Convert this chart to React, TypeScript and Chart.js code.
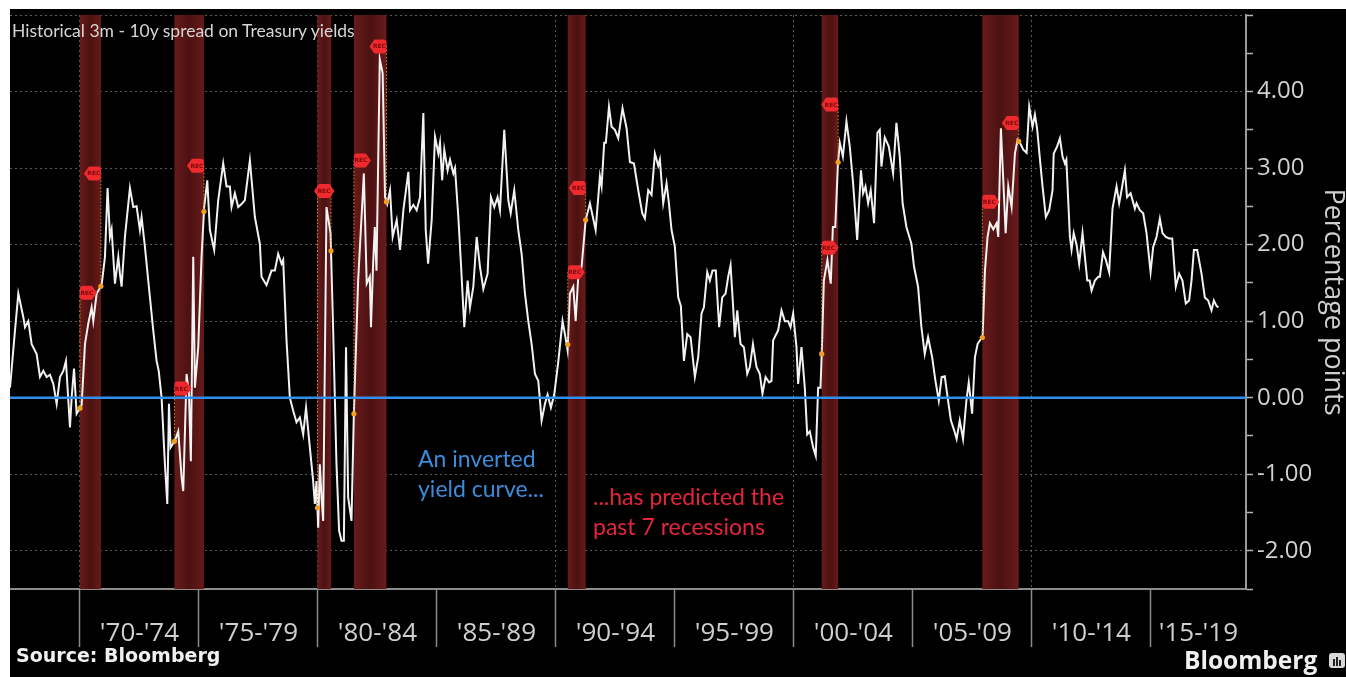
import React, { useEffect, useRef } from 'react';
import { Chart, registerables } from 'chart.js';

Chart.register(...registerables);

// ---- Data ----
const dates: number[] = [
  1967.06, 1967.27, 1967.41, 1967.62, 1967.69, 1967.83, 1967.97, 1968.18, 1968.32, 1968.46,
  1968.60, 1968.74, 1968.88, 1969.02, 1969.16, 1969.30, 1969.41, 1969.58, 1969.65, 1969.75,
  1969.86, 1970.07, 1970.21, 1970.35, 1970.49, 1970.56, 1970.70, 1970.91, 1971.05, 1971.16,
  1971.26, 1971.33, 1971.47, 1971.61, 1971.68, 1971.75, 1971.89, 1972.10, 1972.24, 1972.38,
  1972.52, 1972.59, 1972.73, 1972.87, 1973.08, 1973.22, 1973.31, 1973.43, 1973.57, 1973.67,
  1973.74, 1973.81, 1973.99, 1974.13, 1974.27, 1974.34, 1974.48, 1974.58, 1974.66, 1974.76,
  1974.83, 1974.97, 1975.11, 1975.22, 1975.35, 1975.46, 1975.64, 1975.81, 1976.02, 1976.16,
  1976.30, 1976.37, 1976.51, 1976.65, 1976.79, 1976.93, 1977.14, 1977.35, 1977.56, 1977.63,
  1977.84, 1978.05, 1978.19, 1978.33, 1978.47, 1978.54, 1978.68, 1978.82, 1978.96, 1979.10,
  1979.24, 1979.38, 1979.50, 1979.66, 1979.80, 1979.87, 1979.94, 1980.01, 1980.08, 1980.15,
  1980.22, 1980.36, 1980.53, 1980.64, 1980.78, 1980.89, 1980.99, 1981.09, 1981.18, 1981.27,
  1981.41, 1981.51, 1981.69, 1981.93, 1982.05, 1982.18, 1982.23, 1982.32, 1982.39, 1982.46,
  1982.60, 1982.72, 1982.82, 1982.91, 1983.03, 1983.14, 1983.31, 1983.45, 1983.59, 1983.80,
  1983.87, 1984.01, 1984.15, 1984.29, 1984.43, 1984.53, 1984.63, 1984.78, 1984.92, 1985.06,
  1985.13, 1985.22, 1985.31, 1985.45, 1985.55, 1985.69, 1985.76, 1985.90, 1986.01, 1986.15,
  1986.29, 1986.39, 1986.53, 1986.67, 1986.81, 1986.95, 1987.13, 1987.27, 1987.41, 1987.55,
  1987.65, 1987.83, 1988.00, 1988.10, 1988.25, 1988.42, 1988.56, 1988.70, 1988.84, 1988.98,
  1989.12, 1989.26, 1989.40, 1989.54, 1989.65, 1989.79, 1989.93, 1990.09, 1990.28, 1990.38,
  1990.49, 1990.59, 1990.73, 1990.83, 1990.94, 1991.08, 1991.25, 1991.43, 1991.67, 1991.85,
  1991.92, 1992.03, 1992.10, 1992.23, 1992.34, 1992.48, 1992.62, 1992.80, 1992.97, 1993.11,
  1993.28, 1993.46, 1993.63, 1993.74, 1993.88, 1994.02, 1994.16, 1994.30, 1994.37, 1994.51,
  1994.65, 1994.75, 1994.86, 1995.00, 1995.14, 1995.25, 1995.38, 1995.52, 1995.66, 1995.84,
  1995.98, 1996.12, 1996.22, 1996.36, 1996.47, 1996.58, 1996.72, 1996.86, 1996.99, 1997.13,
  1997.24, 1997.34, 1997.45, 1997.52, 1997.62, 1997.76, 1997.90, 1998.04, 1998.15, 1998.28,
  1998.43, 1998.57, 1998.68, 1998.81, 1998.96, 1999.06, 1999.13, 1999.34, 1999.48, 1999.62,
  1999.76, 1999.86, 1999.97, 2000.11, 2000.18, 2000.32, 2000.46, 2000.56, 2000.67, 2000.81,
  2000.92, 2001.02, 2001.12, 2001.18, 2001.26, 2001.41, 2001.55, 2001.64, 2001.74, 2001.85,
  2001.93, 2002.06, 2002.21, 2002.35, 2002.49, 2002.66, 2002.82, 2002.91, 2003.01, 2003.12,
  2003.23, 2003.37, 2003.51, 2003.61, 2003.68, 2003.82, 2003.99, 2004.17, 2004.31, 2004.45,
  2004.57, 2004.73, 2004.94, 2005.05, 2005.22, 2005.36, 2005.50, 2005.64, 2005.81, 2005.95,
  2006.09, 2006.21, 2006.34, 2006.48, 2006.60, 2006.74, 2006.84, 2006.97, 2007.11, 2007.25,
  2007.35, 2007.49, 2007.61, 2007.72, 2007.82, 2007.93, 2008.03, 2008.14, 2008.24, 2008.38,
  2008.52, 2008.59, 2008.70, 2008.80, 2008.90, 2009.01, 2009.15, 2009.29, 2009.40, 2009.50,
  2009.64, 2009.78, 2009.89, 2010.03, 2010.13, 2010.22, 2010.37, 2010.45, 2010.59, 2010.73,
  2010.87, 2010.92, 2011.06, 2011.18, 2011.29, 2011.39, 2011.45, 2011.60, 2011.67, 2011.76,
  2011.88, 2011.99, 2012.13, 2012.23, 2012.33, 2012.43, 2012.51, 2012.65, 2012.79, 2012.86,
  2012.99, 2013.11, 2013.25, 2013.39, 2013.56, 2013.67, 2013.77, 2013.91, 2014.00, 2014.15,
  2014.33, 2014.40, 2014.54, 2014.68, 2014.82, 2014.99, 2015.10, 2015.24, 2015.38, 2015.49,
  2015.63, 2015.77, 2015.90, 2016.05, 2016.19, 2016.33, 2016.47, 2016.61, 2016.71, 2016.81,
  2016.95, 2017.13, 2017.27, 2017.41, 2017.55, 2017.65, 2017.76, 2017.84,
];

const spread: number[] = [
  0.13, 0.88, 1.36, 1.05, 0.92, 1.00, 0.70, 0.57, 0.27, 0.35,
  0.27, 0.30, 0.18, -0.08, 0.27, 0.35, 0.48, -0.39, 0.00, 0.38,
  -0.21, -0.10, 0.70, 0.97, 1.18, 1.00, 1.36, 1.47, 1.84, 2.74,
  2.10, 2.20, 1.49, 1.84, 1.62, 1.45, 2.10, 2.74, 2.49, 2.50,
  2.19, 2.36, 1.97, 1.53, 0.88, 0.48, 0.35, 0.00, -0.87, -1.39,
  -0.08, -0.65, -0.56, -0.44, -1.04, -1.22, 0.31, 0.05, -0.83, 1.84,
  0.13, 0.66, 1.84, 2.49, 2.84, 2.19, 1.93, 2.58, 3.06, 2.76,
  2.76, 2.49, 2.67, 2.49, 2.53, 2.58, 3.10, 2.36, 2.01, 1.58,
  1.47, 1.66, 1.66, 1.88, 1.75, 1.80, 0.75, 0.00, -0.17, -0.32,
  -0.26, -0.48, -0.13, -0.65, -1.09, -1.39, -1.09, -1.70, -0.87, -1.30,
  -1.61, 2.49, 2.15, 0.88, -0.87, -1.74, -1.87, -1.87, 0.66, -1.30,
  -1.61, -0.21, 1.53, 2.93, 1.49, 1.58, 0.92, 1.75, 2.23, 1.66,
  4.42, 4.24, 2.62, 2.53, 2.71, 2.10, 2.32, 1.93, 2.45, 2.95,
  2.45, 2.52, 2.45, 2.62, 3.72, 2.19, 1.75, 2.32, 3.41, 3.19,
  3.33, 2.84, 3.24, 2.97, 3.11, 2.93, 3.00, 2.36, 1.75, 0.92,
  1.53, 1.18, 1.45, 2.10, 1.71, 1.42, 1.62, 2.62, 2.49, 2.62,
  2.45, 3.50, 2.58, 2.41, 2.71, 2.19, 1.88, 1.36, 1.00, 0.70,
  0.31, 0.22, -0.30, -0.08, 0.04, -0.13, 0.04, 0.44, 1.00, 0.83,
  0.62, 1.36, 1.45, 1.00, 1.58, 1.71, 2.32, 2.54, 2.19, 2.89,
  2.76, 3.33, 3.33, 3.80, 3.54, 3.50, 3.39, 3.78, 3.52, 3.08,
  3.06, 2.71, 2.41, 2.34, 2.71, 2.65, 3.19, 3.03, 3.11, 2.54,
  2.80, 2.54, 2.19, 1.97, 1.31, 1.20, 0.48, 0.83, 0.79, 0.27,
  0.53, 1.10, 1.18, 1.64, 1.53, 1.66, 1.66, 0.92, 1.31, 1.36,
  1.58, 1.73, 1.18, 0.79, 1.14, 0.70, 0.66, 0.31, 0.40, 0.70,
  0.40, 0.31, 0.05, 0.27, 0.20, 0.22, 0.75, 0.88, 1.14, 1.00,
  1.00, 0.92, 1.10, 0.66, 0.18, 0.66, 0.13, -0.48, -0.44, -0.65,
  -0.76, 0.13, 0.13, 0.66, 1.53, 1.80, 1.49, 2.23, 2.23, 3.04,
  3.33, 3.15, 3.61, 3.28, 2.80, 2.06, 2.97, 2.67, 2.76, 2.54,
  2.71, 2.28, 3.46, 3.50, 3.02, 3.40, 3.28, 2.93, 3.59, 3.15,
  2.54, 2.23, 2.01, 1.71, 1.45, 0.92, 0.57, 0.79, 0.53, 0.22,
  -0.04, 0.27, 0.28, -0.04, -0.30, -0.43, -0.54, -0.30, -0.54, -0.04,
  0.20, -0.21, 0.53, 0.70, 0.75, 0.79, 1.66, 2.10, 2.28, 2.20,
  2.28, 2.10, 3.52, 2.84, 2.15, 2.76, 2.49, 3.19, 3.37, 3.33,
  3.24, 3.20, 3.80, 3.54, 3.70, 3.52, 3.02, 2.76, 2.36, 2.45,
  2.71, 3.19, 3.28, 3.39, 3.15, 3.06, 3.11, 2.10, 1.93, 2.15,
  2.00, 1.75, 2.15, 1.84, 1.53, 1.53, 1.40, 1.53, 1.58, 1.58,
  1.90, 1.80, 1.64, 2.47, 2.76, 2.54, 2.71, 2.97, 2.62, 2.67,
  2.47, 2.54, 2.45, 2.41, 2.15, 1.64, 1.97, 2.10, 2.34, 2.15,
  2.10, 2.08, 2.08, 1.45, 1.62, 1.53, 1.23, 1.27, 1.53, 1.93,
  1.93, 1.62, 1.31, 1.27, 1.14, 1.27, 1.20, 1.18,
];

const recessionStart: number[] = [1970.0, 1973.97, 1979.98, 1981.51, 1990.5, 2001.17, 2007.92];
const recessionEnd: number[] = [1970.88, 1975.21, 1980.55, 1982.88, 1991.25, 2001.86, 2009.45];
const tagStartValues: number[] = [1.37, 0.12, 2.7, 3.1, 1.64, 1.96, 2.56];
const tagEndValues: number[] = [2.93, 3.03, 2.7, 4.59, 2.74, 3.83, 3.59];

const periodBoundaries: number[] = [1970, 1975, 1980, 1985, 1990, 1995, 2000, 2005, 2010, 2015];
const decadeLines: number[] = [1970, 1980, 1990, 2000, 2010];
const periodLabelCenters: number[] = [1972.5, 1977.5, 1982.5, 1987.5, 1992.5, 1997.5, 2002.5, 2007.5, 2012.5, 2017.0];
const periodLabels: string[] = ["'70-'74", "'75-'79", "'80-'84", "'85-'89", "'90-'94", "'95-'99", "'00-'04", "'05-'09", "'10-'14", "'15-'19"];

const yTickValues: number[] = [-2.5, -2, -1.5, -1, -0.5, 0, 0.5, 1, 1.5, 2, 2.5, 3, 3.5, 4, 4.5, 5];
const yLabelledValues: number[] = [-2, -1, 0, 1, 2, 3, 4];
const zeroLineValues: number[] = [0, 0];

const X_MIN = 1967.06;
const X_MAX = 2019.0;
const Y_MIN = -2.5;
const Y_MAX = 5;

const near = (a: number, b: number) => Math.abs(a - b) < 1e-6;

function valueAt(t: number): number {
  if (t <= dates[0]) return spread[0];
  for (let i = 1; i < dates.length; i++) {
    if (t <= dates[i]) {
      const f = (t - dates[i - 1]) / (dates[i] - dates[i - 1]);
      return spread[i - 1] + f * (spread[i] - spread[i - 1]);
    }
  }
  return spread[spread.length - 1];
}

const xTickValues: number[] = [...periodBoundaries, ...periodLabelCenters].sort((a, b) => a - b);

function drawTag(ctx: CanvasRenderingContext2D, ax: number, cy: number, dir: number) {
  const w = 17, h = 14, tip = 5, r = 3;
  const top = cy - h / 2, bot = cy + h / 2;
  ctx.beginPath();
  if (dir === 1) {
    ctx.moveTo(ax + r, top);
    ctx.lineTo(ax + w - tip, top);
    ctx.lineTo(ax + w, cy);
    ctx.lineTo(ax + w - tip, bot);
    ctx.lineTo(ax + r, bot);
    ctx.quadraticCurveTo(ax, bot, ax, bot - r);
    ctx.lineTo(ax, top + r);
    ctx.quadraticCurveTo(ax, top, ax + r, top);
  } else {
    ctx.moveTo(ax - r, top);
    ctx.lineTo(ax - w + tip, top);
    ctx.lineTo(ax - w, cy);
    ctx.lineTo(ax - w + tip, bot);
    ctx.lineTo(ax - r, bot);
    ctx.quadraticCurveTo(ax, bot, ax, bot - r);
    ctx.lineTo(ax, top + r);
    ctx.quadraticCurveTo(ax, top, ax - r, top);
  }
  ctx.closePath();
  ctx.fillStyle = '#ee2a2e';
  ctx.fill();
  ctx.fillStyle = '#7a0a0a';
  ctx.font = 'bold 6px "DejaVu Sans"';
  ctx.textAlign = 'center';
  ctx.textBaseline = 'middle';
  const cx = dir === 1 ? ax + (w - tip) / 2 + 1 : ax - (w - tip) / 2 - 1;
  ctx.fillText('REC', cx, cy + 0.5);
}

const recessionPlugin = {
  id: 'recessions',
  beforeDatasetsDraw(chart: any) {
    const { ctx, chartArea, scales } = chart;
    const x = scales.x;
    ctx.save();
    recessionStart.forEach((s, i) => {
      const x1 = x.getPixelForValue(s);
      const x2 = x.getPixelForValue(recessionEnd[i]);
      const g = ctx.createLinearGradient(x1, 0, x2, 0);
      g.addColorStop(0, '#681a1a');
      g.addColorStop(0.5, '#4c1111');
      g.addColorStop(1, '#681a1a');
      ctx.fillStyle = g;
      ctx.fillRect(x1, chartArea.top, x2 - x1, chartArea.bottom - chartArea.top);
    });
    ctx.restore();
  },
  afterDatasetsDraw(chart: any) {
    const { ctx, scales } = chart;
    const x = scales.x, y = scales.y;
    ctx.save();
    const marks: { t: number; tag: number; dir: number }[] = [];
    recessionStart.forEach((s, i) => {
      marks.push({ t: s, tag: tagStartValues[i], dir: 1 });
      marks.push({ t: recessionEnd[i], tag: tagEndValues[i], dir: -1 });
    });
    marks.forEach((m) => {
      const px = x.getPixelForValue(m.t);
      const py = y.getPixelForValue(valueAt(m.t));
      const ty = y.getPixelForValue(m.tag);
      ctx.beginPath();
      ctx.setLineDash([1.5, 2]);
      ctx.strokeStyle = '#d88a1c';
      ctx.lineWidth = 1;
      ctx.moveTo(px, ty);
      ctx.lineTo(px, py);
      ctx.stroke();
    });
    ctx.setLineDash([]);
    marks.forEach((m) => {
      const px = x.getPixelForValue(m.t);
      const py = y.getPixelForValue(valueAt(m.t));
      ctx.beginPath();
      ctx.arc(px, py, 2.6, 0, Math.PI * 2);
      ctx.fillStyle = '#f0a020';
      ctx.fill();
    });
    marks.forEach((m) => {
      drawTag(ctx, x.getPixelForValue(m.t), y.getPixelForValue(m.tag), m.dir);
    });
    ctx.restore();
  },
};

function ChartCanvas() {
  const ref = useRef<HTMLCanvasElement | null>(null);
  useEffect(() => {
    if (!ref.current) return;
    const chart = new Chart(ref.current, {
      type: 'line',
      data: {
        datasets: [
          {
            label: 'zero',
            data: [
              { x: X_MIN, y: zeroLineValues[0] },
              { x: X_MAX, y: zeroLineValues[1] },
            ],
            borderColor: '#2f8ff0',
            borderWidth: 2.5,
            pointRadius: 0,
            tension: 0,
          },
          {
            label: '3m-10y spread',
            data: dates.map((d, i) => ({ x: d, y: spread[i] })),
            borderColor: '#f2f2f2',
            borderWidth: 2,
            pointRadius: 0,
            tension: 0,
          },
        ],
      },
      options: {
        animation: false,
        responsive: true,
        maintainAspectRatio: false,
        layout: { padding: { top: 6, left: 0, right: 0, bottom: 0 } },
        plugins: { legend: { display: false }, tooltip: { enabled: false }, title: { display: false } },
        events: [],
        scales: {
          x: {
            type: 'linear',
            position: 'bottom',
            min: X_MIN,
            max: X_MAX,
            afterBuildTicks: (s: any) => {
              s.ticks = xTickValues.map((v) => ({ value: v }));
            },
            afterFit: (s: any) => {
              s.height = 88;
              s.paddingLeft = 0;
              s.paddingRight = 0;
            },
            ticks: {
              autoSkip: false,
              maxRotation: 0,
              minRotation: 0,
              padding: -29,
              color: '#cfcfcf',
              font: { family: 'Open Sans', size: 26 },
              callback: (v: any) => {
                const idx = periodLabelCenters.findIndex((c) => near(c, Number(v)));
                return idx >= 0 ? periodLabels[idx] : '';
              },
            },
            grid: {
              drawOnChartArea: true,
              color: (c: any) =>
                c.tick && decadeLines.some((d) => near(d, c.tick.value)) ? 'rgba(150,150,150,0.6)' : 'rgba(0,0,0,0)',
              lineWidth: 1,
              tickLength: 58,
              tickWidth: 1.5,
              tickColor: (c: any) =>
                c.tick && periodBoundaries.some((d) => near(d, c.tick.value)) ? '#8a8a8a' : 'rgba(0,0,0,0)',
              tickBorderDash: [],
            },
            border: { display: true, color: '#8c8c8c', width: 2, dash: [2, 3] },
          },
          y: {
            type: 'linear',
            position: 'right',
            min: Y_MIN,
            max: Y_MAX,
            afterBuildTicks: (s: any) => {
              s.ticks = yTickValues.map((v) => ({ value: v }));
            },
            afterFit: (s: any) => {
              s.width = 100;
              s.paddingTop = 0;
              s.paddingBottom = 0;
            },
            ticks: {
              padding: 4,
              color: '#d0d0d0',
              font: { family: 'Open Sans', size: 24 },
              callback: (v: any) => (yLabelledValues.some((l) => near(l, Number(v))) ? Number(v).toFixed(2) : ''),
            },
            grid: {
              color: (c: any) =>
                c.tick && Number.isInteger(c.tick.value) ? 'rgba(150,150,150,0.6)' : 'rgba(0,0,0,0)',
              lineWidth: 1,
              tickLength: 7,
              tickWidth: 1.5,
              tickColor: '#b5b5b5',
              tickBorderDash: [],
            },
            border: { display: true, color: '#9a9a9a', width: 2, dash: [2, 3] },
            title: {
              display: true,
              text: 'Percentage points',
              color: '#cfcfcf',
              font: { family: 'Open Sans', size: 27, lineHeight: 1 },
              padding: { top: 0, bottom: 0 },
            },
          },
        },
      } as any,
      plugins: [recessionPlugin],
    });
    return () => chart.destroy();
  }, []);
  return <canvas ref={ref} />;
}

const textBase: React.CSSProperties = { position: 'absolute', whiteSpace: 'nowrap', margin: 0 };

export default function App() {
  return (
    <div style={{ position: 'fixed', left: 0, top: 0, width: 1346, height: 677, overflow: 'hidden', background: '#ffffff' }}>
      <div style={{ position: 'absolute', left: 10, top: 9, width: 1336, height: 668, background: '#000000' }}>
        <div style={{ position: 'absolute', left: 0, top: 0, width: 1336, height: 668 }}>
          <ChartCanvas />
        </div>
      </div>
      <div style={{ ...textBase, left: 12, top: 20, font: '17.5px Lato', lineHeight: '21px', color: '#d6d6d6' }}>
        Historical 3m - 10y spread on Treasury yields
      </div>
      <div style={{ ...textBase, left: 418, top: 442.8, font: '23px Lato', lineHeight: '30px', color: '#3a8ddb' }}>
        An inverted
        <br />
        yield curve...
      </div>
      <div style={{ ...textBase, left: 593, top: 481.1, font: '23px Lato', lineHeight: '30px', color: '#e3263a' }}>
        ...has predicted the
        <br />
        past 7 recessions
      </div>
      <div style={{ ...textBase, left: 16, top: 643.5, font: 'bold 19px "DejaVu Sans"', lineHeight: '22px', color: '#f0f0f0' }}>
        Source: Bloomberg
      </div>
      <div style={{ ...textBase, left: 1184, top: 643, font: '700 24.5px "Open Sans"', lineHeight: '33px', color: '#f0f0f0' }}>
        Bloomberg
      </div>
      <div
        style={{
          position: 'absolute',
          left: 1329,
          top: 653,
          width: 16,
          height: 15,
          borderRadius: 3,
          background: '#d8d8d8',
        }}
      >
        <div style={{ position: 'absolute', left: 4, top: 6, width: 2, height: 7, background: '#222' }} />
        <div style={{ position: 'absolute', left: 7, top: 4, width: 2, height: 9, background: '#222' }} />
        <div style={{ position: 'absolute', left: 10, top: 7, width: 2, height: 6, background: '#222' }} />
      </div>
    </div>
  );
}
